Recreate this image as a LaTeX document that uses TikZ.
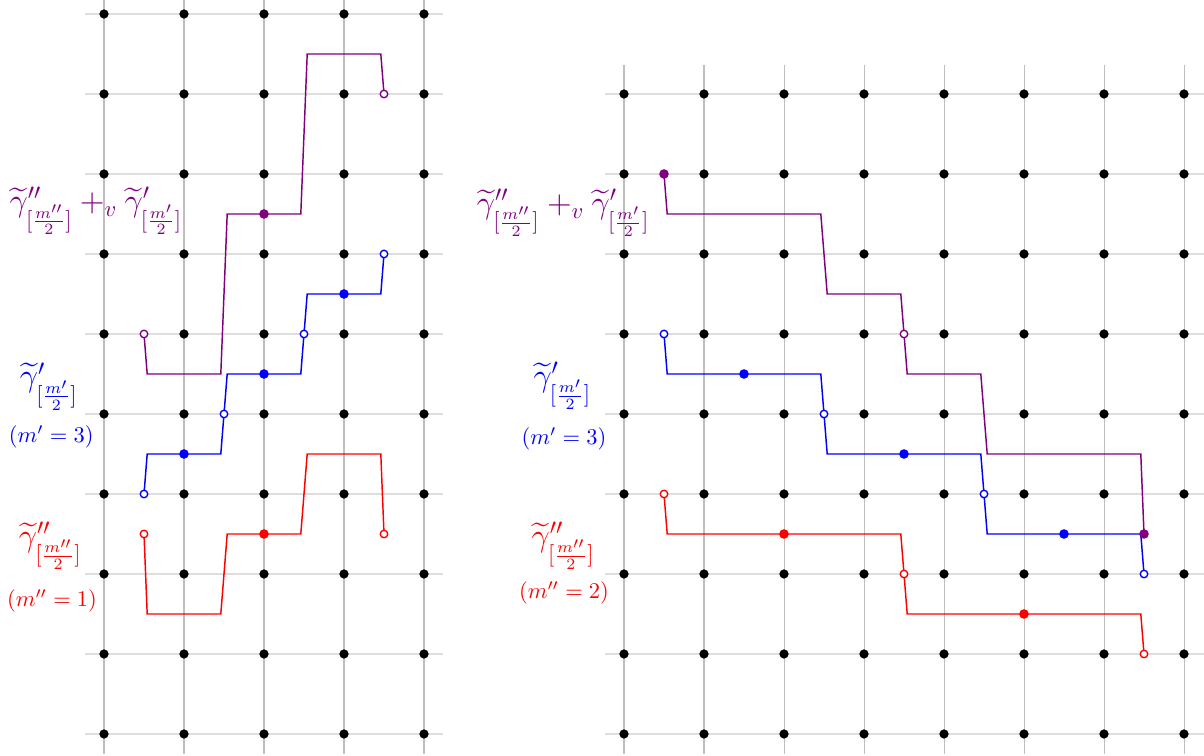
\documentclass[tikz,border=0pt]{standalone}
\usepackage{amsmath}
\definecolor{pp}{RGB}{128,0,128}
\begin{document}
\begin{tikzpicture}[x=1.25cm,y=1.25cm,
  vgrid/.style={draw=black!25,line width=0.45pt},
  hgrid/.style={draw=black!13,line width=0.8pt},
  curve/.style={line width=0.65pt},
  blackdot/.style={fill=black},
  opendot/.style={draw=#1,fill=white,line width=0.6pt},
  fulldot/.style={fill=#1},
  biglbl/.style={font=\Large,text=#1},
  smalllbl/.style={font=\normalsize,text=#1}]
\clip (0,0) rectangle (15.05,9.45);
% ---------------- left panel ----------------
\begin{scope}[shift={(1.3,0.275)}]
  \foreach \y in {0,...,9} \draw[hgrid] (-0.24,\y) -- (4.24,\y);
  \foreach \x in {0,...,4} \draw[vgrid] (\x,-0.25) -- (\x,9.5);
  \foreach \x in {0,...,4} \foreach \y in {0,...,9}
    \fill[blackdot] (\x,\y) circle[radius=0.058];
  % purple
  \draw[curve,pp] (0.5,5) -- (0.54,4.5) -- (1.46,4.5) -- (1.54,6.5) -- (2.46,6.5)
     -- (2.54,8.5) -- (3.46,8.5) -- (3.5,8);
  \fill[fulldot=pp] (2,6.5) circle[radius=0.06];
  \filldraw[opendot=pp] (0.5,5) circle[radius=0.047];
  \filldraw[opendot=pp] (3.5,8) circle[radius=0.047];
  % blue
  \draw[curve,blue] (0.5,3) -- (0.54,3.5) -- (1.46,3.5) -- (1.54,4.5) -- (2.46,4.5)
     -- (2.54,5.5) -- (3.46,5.5) -- (3.5,6);
  \foreach \p in {(1,3.5),(2,4.5),(3,5.5)} \fill[fulldot=blue] \p circle[radius=0.06];
  \foreach \p in {(0.5,3),(1.5,4),(2.5,5),(3.5,6)} \filldraw[opendot=blue] \p circle[radius=0.047];
  % red
  \draw[curve,red] (0.5,2.5) -- (0.54,1.5) -- (1.46,1.5) -- (1.54,2.5) -- (2.46,2.5)
     -- (2.54,3.5) -- (3.46,3.5) -- (3.5,2.5);
  \fill[fulldot=red] (2,2.5) circle[radius=0.06];
  \foreach \p in {(0.5,2.5),(3.5,2.5)} \filldraw[opendot=red] \p circle[radius=0.047];
\end{scope}
\node[biglbl=pp] (lsum) at (1.2,6.81) {$\widetilde{\gamma}''_{[\frac{m''}{2}]} +_v \widetilde{\gamma}'_{[\frac{m'}{2}]}$};
\node[biglbl=blue] (lgp) at (0.61,4.62) {$\widetilde{\gamma}'_{[\frac{m'}{2}]}$};
\node[smalllbl=blue] (lmp) at (0.64,3.99) {$(m'=3)$};
\node[biglbl=red] (lgpp) at (0.63,2.63) {$\widetilde{\gamma}''_{[\frac{m''}{2}]}$};
\node[smalllbl=red] (lmpp) at (0.65,1.94) {$(m''=1)$};
% ---------------- right panel ----------------
\begin{scope}[shift={(7.8,0.275)}]
  \foreach \y in {0,...,8} \draw[hgrid] (-0.24,\y) -- (7.3,\y);
  \foreach \x in {0,...,7} \draw[vgrid] (\x,-0.25) -- (\x,8.36);
  \foreach \x in {0,...,7} \foreach \y in {0,...,8}
    \fill[blackdot] (\x,\y) circle[radius=0.058];
  % blue
  \draw[curve,blue] (0.5,5) -- (0.54,4.5) -- (2.46,4.5) -- (2.54,3.5) -- (4.46,3.5)
     -- (4.54,2.5) -- (6.46,2.5) -- (6.5,2);
  \foreach \p in {(1.5,4.5),(3.5,3.5),(5.5,2.5)} \fill[fulldot=blue] \p circle[radius=0.06];
  \foreach \p in {(0.5,5),(2.5,4),(4.5,3),(6.5,2)} \filldraw[opendot=blue] \p circle[radius=0.047];
  % red
  \draw[curve,red] (0.5,3) -- (0.54,2.5) -- (3.46,2.5) -- (3.54,1.5) -- (6.46,1.5) -- (6.5,1);
  \foreach \p in {(2,2.5),(5,1.5)} \fill[fulldot=red] \p circle[radius=0.06];
  \foreach \p in {(0.5,3),(3.5,2),(6.5,1)} \filldraw[opendot=red] \p circle[radius=0.047];
  % purple
  \draw[curve,pp] (0.5,7) -- (0.54,6.5) -- (2.46,6.5) -- (2.54,5.5) -- (3.46,5.5)
     -- (3.54,4.5) -- (4.46,4.5) -- (4.54,3.5) -- (6.46,3.5) -- (6.5,2.5);
  \foreach \p in {(0.5,7),(6.5,2.5)} \fill[fulldot=pp] \p circle[radius=0.06];
  \filldraw[opendot=pp] (3.5,5) circle[radius=0.047];
\end{scope}
\node[biglbl=pp] (rsum) at (7.04,6.79) {$\widetilde{\gamma}''_{[\frac{m''}{2}]} +_v \widetilde{\gamma}'_{[\frac{m'}{2}]}$};
\node[biglbl=blue] (rgp) at (7.03,4.63) {$\widetilde{\gamma}'_{[\frac{m'}{2}]}$};
\node[smalllbl=blue] (rmp) at (7.05,3.96) {$(m'=3)$};
\node[biglbl=red] (rgpp) at (7.04,2.63) {$\widetilde{\gamma}''_{[\frac{m''}{2}]}$};
\node[smalllbl=red] (rmpp) at (7.05,2.04) {$(m''=2)$};
\end{tikzpicture}
\end{document}
